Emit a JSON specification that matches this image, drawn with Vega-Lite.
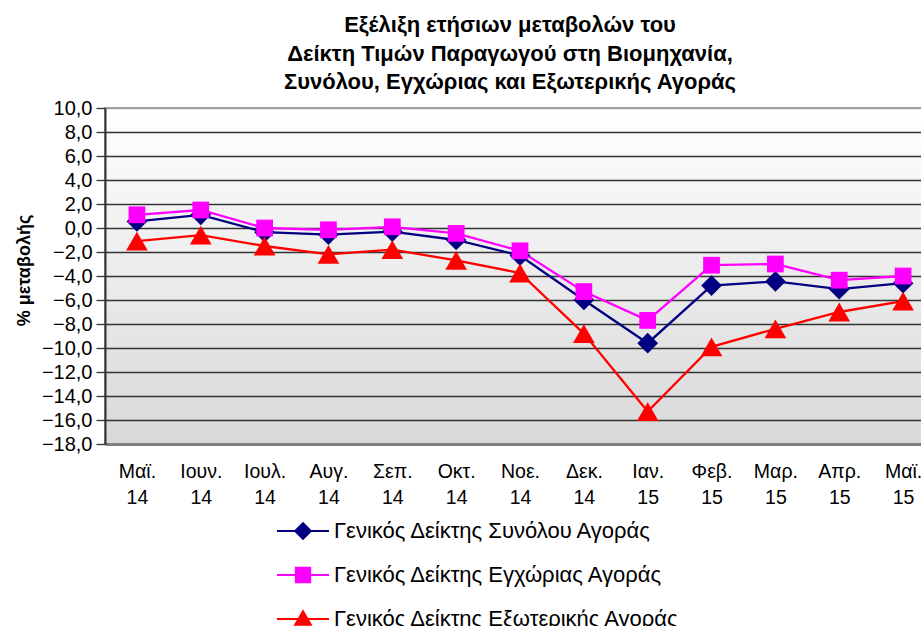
{
  "$schema": "https://vega.github.io/schema/vega-lite/v6.json",
  "autosize": {"type": "none"},
  "padding": {"left": 105, "top": 108, "right": 0, "bottom": 182},
  "width": 830,
  "height": 336,
  "title": {
    "text": ["Εξέλιξη ετήσιων μεταβολών του", "Δείκτη Τιμών Παραγωγού στη Βιομηχανία,", "Συνόλου, Εγχώριας και Εξωτερικής Αγοράς"],
    "font": "Liberation Sans",
    "fontSize": 22,
    "fontWeight": "bold",
    "lineHeight": 28.5,
    "anchor": "middle",
    "dx": -10,
    "offset": 4,
    "color": "black"
  },
  "data": {
    "values": [
      {"m": "Μαϊ. 14", "s": "Γενικός Δείκτης Συνόλου Αγοράς", "v": 0.55},
      {"m": "Ιουν. 14", "s": "Γενικός Δείκτης Συνόλου Αγοράς", "v": 1.1},
      {"m": "Ιουλ. 14", "s": "Γενικός Δείκτης Συνόλου Αγοράς", "v": -0.35},
      {"m": "Αυγ. 14", "s": "Γενικός Δείκτης Συνόλου Αγοράς", "v": -0.55},
      {"m": "Σεπ. 14", "s": "Γενικός Δείκτης Συνόλου Αγοράς", "v": -0.3},
      {"m": "Οκτ. 14", "s": "Γενικός Δείκτης Συνόλου Αγοράς", "v": -1.0},
      {"m": "Νοε. 14", "s": "Γενικός Δείκτης Συνόλου Αγοράς", "v": -2.3},
      {"m": "Δεκ. 14", "s": "Γενικός Δείκτης Συνόλου Αγοράς", "v": -6.0},
      {"m": "Ιαν. 15", "s": "Γενικός Δείκτης Συνόλου Αγοράς", "v": -9.6},
      {"m": "Φεβ. 15", "s": "Γενικός Δείκτης Συνόλου Αγοράς", "v": -4.8},
      {"m": "Μαρ. 15", "s": "Γενικός Δείκτης Συνόλου Αγοράς", "v": -4.45},
      {"m": "Απρ. 15", "s": "Γενικός Δείκτης Συνόλου Αγοράς", "v": -5.1},
      {"m": "Μαϊ. 15", "s": "Γενικός Δείκτης Συνόλου Αγοράς", "v": -4.6},
      {"m": "Μαϊ. 14", "s": "Γενικός Δείκτης Εγχώριας Αγοράς", "v": 1.1},
      {"m": "Ιουν. 14", "s": "Γενικός Δείκτης Εγχώριας Αγοράς", "v": 1.5},
      {"m": "Ιουλ. 14", "s": "Γενικός Δείκτης Εγχώριας Αγοράς", "v": 0.0},
      {"m": "Αυγ. 14", "s": "Γενικός Δείκτης Εγχώριας Αγοράς", "v": -0.15},
      {"m": "Σεπ. 14", "s": "Γενικός Δείκτης Εγχώριας Αγοράς", "v": 0.1},
      {"m": "Οκτ. 14", "s": "Γενικός Δείκτης Εγχώριας Αγοράς", "v": -0.45},
      {"m": "Νοε. 14", "s": "Γενικός Δείκτης Εγχώριας Αγοράς", "v": -1.9},
      {"m": "Δεκ. 14", "s": "Γενικός Δείκτης Εγχώριας Αγοράς", "v": -5.3},
      {"m": "Ιαν. 15", "s": "Γενικός Δείκτης Εγχώριας Αγοράς", "v": -7.7},
      {"m": "Φεβ. 15", "s": "Γενικός Δείκτης Εγχώριας Αγοράς", "v": -3.1},
      {"m": "Μαρ. 15", "s": "Γενικός Δείκτης Εγχώριας Αγοράς", "v": -3.0},
      {"m": "Απρ. 15", "s": "Γενικός Δείκτης Εγχώριας Αγοράς", "v": -4.35},
      {"m": "Μαϊ. 15", "s": "Γενικός Δείκτης Εγχώριας Αγοράς", "v": -4.0},
      {"m": "Μαϊ. 14", "s": "Γενικός Δείκτης Εξωτερικής Αγοράς", "v": -1.1},
      {"m": "Ιουν. 14", "s": "Γενικός Δείκτης Εξωτερικής Αγοράς", "v": -0.6},
      {"m": "Ιουλ. 14", "s": "Γενικός Δείκτης Εξωτερικής Αγοράς", "v": -1.5},
      {"m": "Αυγ. 14", "s": "Γενικός Δείκτης Εξωτερικής Αγοράς", "v": -2.2},
      {"m": "Σεπ. 14", "s": "Γενικός Δείκτης Εξωτερικής Αγοράς", "v": -1.8},
      {"m": "Οκτ. 14", "s": "Γενικός Δείκτης Εξωτερικής Αγοράς", "v": -2.7},
      {"m": "Νοε. 14", "s": "Γενικός Δείκτης Εξωτερικής Αγοράς", "v": -3.75},
      {"m": "Δεκ. 14", "s": "Γενικός Δείκτης Εξωτερικής Αγοράς", "v": -8.8},
      {"m": "Ιαν. 15", "s": "Γενικός Δείκτης Εξωτερικής Αγοράς", "v": -15.3},
      {"m": "Φεβ. 15", "s": "Γενικός Δείκτης Εξωτερικής Αγοράς", "v": -9.9},
      {"m": "Μαρ. 15", "s": "Γενικός Δείκτης Εξωτερικής Αγοράς", "v": -8.4},
      {"m": "Απρ. 15", "s": "Γενικός Δείκτης Εξωτερικής Αγοράς", "v": -7.0},
      {"m": "Μαϊ. 15", "s": "Γενικός Δείκτης Εξωτερικής Αγοράς", "v": -6.1}
    ]
  },
  "encoding": {
    "x": {
      "field": "m",
      "type": "ordinal",
      "sort": ["Μαϊ. 14", "Ιουν. 14", "Ιουλ. 14", "Αυγ. 14", "Σεπ. 14", "Οκτ. 14", "Νοε. 14", "Δεκ. 14", "Ιαν. 15", "Φεβ. 15", "Μαρ. 15", "Απρ. 15", "Μαϊ. 15"],
      "scale": {"padding": 0.5},
      "axis": {
        "title": null,
        "labelExpr": "split(datum.label, ' ')",
        "labelAngle": 0,
        "labelFont": "Liberation Sans",
        "labelFontSize": 19.5,
        "labelLineHeight": 26,
        "labelColor": "black",
        "labelPadding": 18,
        "ticks": false,
        "grid": false,
        "domainColor": "#808080",
        "domainWidth": 3
      }
    },
    "y": {
      "field": "v",
      "type": "quantitative",
      "scale": {"domain": [-18, 10], "nice": false, "zero": false},
      "axis": {
        "title": "% μεταβολής",
        "titleFont": "Liberation Sans",
        "titleFontSize": 18,
        "titleFontWeight": "bold",
        "titleColor": "black",
        "titleAngle": -90,
        "titleAlign": "center",
        "titleBaseline": "middle",
        "titleX": -81,
        "titleY": 162,
        "values": [-18, -16, -14, -12, -10, -8, -6, -4, -2, 0, 2, 4, 6, 8, 10],
        "labelExpr": "replace(format(datum.value, '.1f'), '.', ',')",
        "labelFont": "Liberation Sans",
        "labelFontSize": 20,
        "labelColor": "black",
        "labelPadding": 4,
        "tickSize": 9,
        "tickColor": "#333333",
        "tickWidth": 1.3,
        "domainColor": "#333333",
        "domainWidth": 2,
        "grid": true,
        "gridColor": {"condition": {"test": "datum.value === 10", "value": "#a0a0a0"}, "value": "#333333"},
        "gridWidth": 1.4
      }
    },
    "color": {
      "field": "s",
      "type": "nominal",
      "scale": {
        "domain": ["Γενικός Δείκτης Συνόλου Αγοράς", "Γενικός Δείκτης Εγχώριας Αγοράς", "Γενικός Δείκτης Εξωτερικής Αγοράς"],
        "range": ["#000080", "#ff00ff", "#ff0000"]
      },
      "legend": {
        "orient": "none",
        "legendX": 184,
        "legendY": 409,
        "direction": "vertical",
        "title": null,
        "padding": 0,
        "labelFont": "Liberation Sans",
        "labelFontSize": 22,
        "labelColor": "black",
        "labelLimit": 600,
        "labelOffset": 17,
        "symbolSize": 676,
        "symbolStrokeWidth": 2,
        "symbolOpacity": 1,
        "rowPadding": 18
      }
    }
  },
  "layer": [
    {"mark": {"type": "line", "strokeWidth": 2.3}},
    {
      "transform": [{"filter": "datum.s === 'Γενικός Δείκτης Συνόλου Αγοράς'"}],
      "mark": {"type": "point", "filled": true, "opacity": 1, "shape": "diamond", "size": 430}
    },
    {
      "transform": [{"filter": "datum.s === 'Γενικός Δείκτης Εγχώριας Αγοράς'"}],
      "mark": {"type": "point", "filled": true, "opacity": 1, "shape": "square", "size": 280}
    },
    {
      "transform": [{"filter": "datum.s === 'Γενικός Δείκτης Εξωτερικής Αγοράς'"}],
      "mark": {"type": "point", "filled": true, "opacity": 1, "shape": "triangle-up", "size": 470}
    },
    {
      "mark": {"type": "point", "filled": true, "opacity": 0, "size": 676},
      "encoding": {
        "shape": {
          "field": "s",
          "type": "nominal",
          "scale": {
            "domain": ["Γενικός Δείκτης Συνόλου Αγοράς", "Γενικός Δείκτης Εγχώριας Αγοράς", "Γενικός Δείκτης Εξωτερικής Αγοράς"],
            "range": ["M-2,0L2,0M0,-0.6L0.6,0L0,0.6L-0.6,0Z", "M-2,0L2,0M-0.55,-0.55L0.55,-0.55L0.55,0.55L-0.55,0.55Z", "M-2,0L2,0M0,-0.6L0.6,0.45L-0.6,0.45Z"]
          },
          "legend": {
            "orient": "none",
            "legendX": 184,
            "legendY": 409,
            "direction": "vertical",
            "title": null,
            "padding": 0,
            "labelFont": "Liberation Sans",
            "labelFontSize": 22,
            "labelColor": "black",
            "labelLimit": 600,
            "labelOffset": 17,
            "symbolSize": 676,
            "symbolStrokeWidth": 2,
            "symbolOpacity": 1,
            "rowPadding": 18
          }
        }
      }
    }
  ],
  "config": {
    "font": "Liberation Sans",
    "view": {
      "fill": {"gradient": "linear", "x1": 0, "y1": 0, "x2": 0, "y2": 1, "stops": [{"offset": 0, "color": "#ffffff"}, {"offset": 1, "color": "#d8d8d8"}]},
      "stroke": "#a0a0a0",
      "strokeWidth": 2
    }
  }
}
